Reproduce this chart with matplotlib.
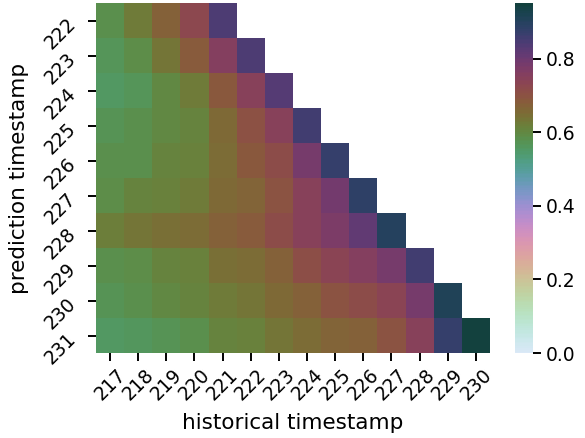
import numpy as np
import matplotlib
matplotlib.use("Agg")
import matplotlib.pyplot as plt
import seaborn as sns

historical = [217, 218, 219, 220, 221, 222, 223, 224, 225, 226, 227, 228, 229, 230]
prediction = [222, 223, 224, 225, 226, 227, 228, 229, 230, 231]

row_222 = [0.585, 0.625, 0.675, 0.725, 0.84]
row_223 = [0.565, 0.59, 0.635, 0.68, 0.755, 0.84]
row_224 = [0.555, 0.565, 0.60, 0.625, 0.69, 0.745, 0.83]
row_225 = [0.575, 0.58, 0.595, 0.605, 0.655, 0.705, 0.745, 0.855]
row_226 = [0.58, 0.585, 0.605, 0.615, 0.65, 0.69, 0.715, 0.78, 0.87]
row_227 = [0.59, 0.605, 0.615, 0.625, 0.655, 0.665, 0.695, 0.745, 0.79, 0.885]
row_228 = [0.62, 0.635, 0.645, 0.65, 0.675, 0.68, 0.715, 0.745, 0.775, 0.815, 0.90]
row_229 = [0.58, 0.59, 0.605, 0.615, 0.645, 0.65, 0.675, 0.71, 0.735, 0.755, 0.785, 0.855]
row_230 = [0.57, 0.58, 0.595, 0.605, 0.625, 0.635, 0.655, 0.675, 0.695, 0.715, 0.735, 0.78, 0.91]
row_231 = [0.555, 0.56, 0.57, 0.58, 0.605, 0.615, 0.635, 0.65, 0.665, 0.675, 0.695, 0.745, 0.87, 0.95]

rows = [row_222, row_223, row_224, row_225, row_226, row_227, row_228, row_229, row_230, row_231]
data = np.full((len(prediction), len(historical)), np.nan)
for i, r in enumerate(rows):
    data[i, :len(r)] = r
mask = np.isnan(data)

cmap = sns.cubehelix_palette(start=0.6, rot=3, hue=0.9, light=0.9, dark=0.2, as_cmap=True)

fig = plt.figure(figsize=(5.85, 4.38), dpi=100)
ax = fig.add_axes([0.1641, 0.194, 0.6735, 0.7985])
cax = fig.add_axes([0.8803, 0.194, 0.0308, 0.7985])

sns.heatmap(data, mask=mask, cmap=cmap, vmin=0.0, ax=ax, cbar_ax=cax,
            xticklabels=historical, yticklabels=prediction)

ax.set_xlabel("historical timestamp", fontsize=15.5)
ax.set_ylabel("prediction timestamp", fontsize=15.5)
ax.xaxis.set_label_coords(0.5, -0.172)
ax.yaxis.set_label_coords(-0.171, 0.5)
ax.tick_params(axis="both", length=5.5, width=1.4, labelsize=13.5)
ax.tick_params(axis="x", pad=3.5)
ax.tick_params(axis="y", pad=11)
plt.setp(ax.get_xticklabels(), rotation=45, ha="center", va="top")
plt.setp(ax.get_yticklabels(), rotation=45, ha="right", va="center",
         rotation_mode="anchor")
cax.tick_params(length=5.5, width=1.4, labelsize=13.5)
cax.set_yticks([0.0, 0.2, 0.4, 0.6, 0.8])

fig.savefig("out.png", dpi=100)
